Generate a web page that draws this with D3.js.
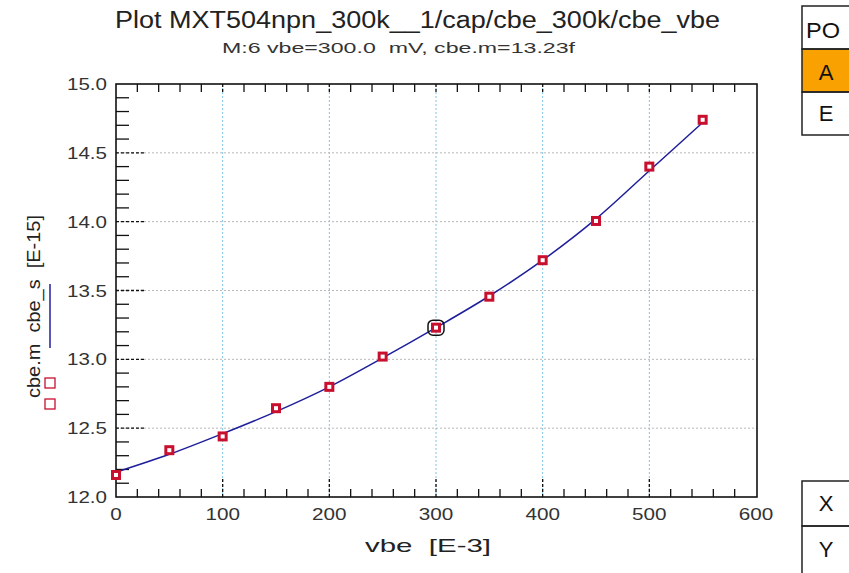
<!DOCTYPE html>
<html>
<head>
<meta charset="utf-8">
<script src="https://cdn.jsdelivr.net/npm/d3@7"></script>
<style>
  html, body { margin: 0; padding: 0; background: #fff; }
  svg { display: block; font-family: "Liberation Sans", Arial, sans-serif; }
</style>
</head>
<body>
<svg id="chart" width="849" height="573"></svg>
<script>
// Measured capacitance (cbe.m) and simulated curve (cbe_s) vs. base-emitter voltage
const vbe = [0, 50, 100, 150, 200, 250, 300, 350, 400, 450, 500, 550];        // [E-3] V
const cbeM = [12.16, 12.34, 12.44, 12.645, 12.80, 13.02, 13.23, 13.455, 13.72, 14.005, 14.40, 14.74]; // [E-15] F
const cbeS = [12.18, 12.31, 12.46, 12.62, 12.80, 13.01, 13.23, 13.46, 13.72, 14.02, 14.37, 14.72];   // [E-15] F
const xTicks = [0, 100, 200, 300, 400, 500, 600];
const yTicks = [12.0, 12.5, 13.0, 13.5, 14.0, 14.5, 15.0];
const markerVbe = 300, markerCbe = 13.23;

const svg = d3.select("#chart");
const L = 116, R = 757, T = 84, B = 497;

const x = d3.scaleLinear().domain([0, 600]).range([L, L + 640]);
const y = d3.scaleLinear().domain([12, 15]).range([B, T]);

const ink = "#222";

// helper: text fitted to a given width (the plotter uses a wide sans face)
function fitText(sel, width) {
  return sel.attr("textLength", width).attr("lengthAdjust", "spacingAndGlyphs");
}

// Titles
fitText(svg.append("text").attr("x", 115).attr("y", 28)
  .attr("font-size", 23).attr("fill", ink).text("Plot MXT504npn_300k__1/cap/cbe_300k/cbe_vbe"), 605);
fitText(svg.append("text").attr("x", 222).attr("y", 53)
  .attr("font-size", 15).attr("fill", "#333").attr("xml:space", "preserve")
  .text("M:6 vbe=300.0  mV, cbe.m=13.23f"), 353);

// Grid
const grid = svg.append("g");
xTicks.filter(d => d > 0 && d < 600).forEach(d => {
  grid.append("line").attr("x1", x(d)).attr("x2", x(d)).attr("y1", T).attr("y2", B)
    .attr("stroke", "#7fc4e6").attr("stroke-width", 1).attr("stroke-dasharray", "2,2");
});
yTicks.filter(d => d > 12 && d < 15).forEach(d => {
  grid.append("line").attr("x1", L).attr("x2", R).attr("y1", y(d)).attr("y2", y(d))
    .attr("stroke", "#b8b8b8").attr("stroke-width", 1).attr("stroke-dasharray", "2,2");
});

// Minor ticks
const ax = svg.append("g").attr("stroke", "#111").attr("stroke-width", 1.3);
d3.range(0, 601, 20).forEach(d => {
  if (d % 100 === 0) return;
  ax.append("line").attr("x1", x(d)).attr("x2", x(d)).attr("y1", B).attr("y2", B - 8);
  ax.append("line").attr("x1", x(d)).attr("x2", x(d)).attr("y1", T).attr("y2", T + 8);
});
d3.range(0, 31).map(i => 12 + i * 0.1).forEach(d => {
  if (Math.abs(d * 2 - Math.round(d * 2)) < 1e-6) return;
  ax.append("line").attr("x1", L).attr("x2", L + 13).attr("y1", y(d)).attr("y2", y(d));
});
// Major ticks (dashed)
xTicks.filter(d => d > 0 && d < 600).forEach(d => {
  ax.append("line").attr("x1", x(d)).attr("x2", x(d)).attr("y1", B).attr("y2", B - 20).attr("stroke-dasharray", "3,2");
  ax.append("line").attr("x1", x(d)).attr("x2", x(d)).attr("y1", T).attr("y2", T + 10).attr("stroke-dasharray", "3,2");
});
yTicks.filter(d => d > 12 && d < 15).forEach(d => {
  ax.append("line").attr("x1", L).attr("x2", L + 28).attr("y1", y(d)).attr("y2", y(d)).attr("stroke-dasharray", "3,2");
});

// Frame
svg.append("rect").attr("x", L).attr("y", T).attr("width", R - L).attr("height", B - T)
  .attr("fill", "none").attr("stroke", "#111").attr("stroke-width", 1.6);

// Tick labels
svg.append("g").selectAll("text").data(xTicks).join("text")
  .attr("x", d => x(d)).attr("y", 520).attr("text-anchor", "middle")
  .attr("font-size", 17).attr("fill", "#333").text(d => d)
  .attr("textLength", d => String(d).length * 11.5).attr("lengthAdjust", "spacingAndGlyphs");
svg.append("g").selectAll("text").data(yTicks).join("text")
  .attr("x", 107).attr("y", d => y(d) + 6).attr("text-anchor", "end")
  .attr("font-size", 17).attr("fill", "#333").text(d => d.toFixed(1))
  .attr("textLength", 40).attr("lengthAdjust", "spacingAndGlyphs");

// Axis titles
fitText(svg.append("text").attr("x", 365).attr("y", 552)
  .attr("font-size", 19).attr("fill", ink).attr("xml:space", "preserve").text("vbe  [E-3]"), 126);
fitText(svg.append("text").attr("transform", "translate(40,398) rotate(-90)")
  .attr("font-size", 19).attr("fill", ink).attr("xml:space", "preserve").text("cbe.m  cbe_s  [E-15]"), 183);

// Legend symbols beside the axis title
const blue = "#1f1f9c", red = "#c8102e";
svg.append("line").attr("x1", 50).attr("x2", 50).attr("y1", 284).attr("y2", 348)
  .attr("stroke", blue).attr("stroke-width", 1.5);
[383, 404].forEach(cy => {
  svg.append("rect").attr("x", 45).attr("y", cy - 5).attr("width", 10).attr("height", 10)
    .attr("fill", "none").attr("stroke", red).attr("stroke-width", 1.3);
});

// Simulated curve
const line = d3.line().x((d, i) => x(vbe[i])).y(d => y(d)).curve(d3.curveMonotoneX);
svg.append("path").datum(cbeS).attr("d", line)
  .attr("fill", "none").attr("stroke", blue).attr("stroke-width", 1.5);

// Measured points
svg.append("g").selectAll("rect").data(cbeM).join("rect")
  .attr("x", (d, i) => x(vbe[i]) - 3.5).attr("y", d => y(d) - 3.5)
  .attr("width", 7).attr("height", 7)
  .attr("fill", "#fff").attr("stroke", red).attr("stroke-width", 3);

// Marker M:6
svg.append("rect").attr("x", x(markerVbe) - 8).attr("y", y(markerCbe) - 7.5)
  .attr("width", 16).attr("height", 15).attr("rx", 5)
  .attr("fill", "none").attr("stroke", "#111").attr("stroke-width", 1.5);

// Side panels
const panel = svg.append("g").attr("font-size", 22).attr("fill", "#111");
panel.append("rect").attr("x", 802).attr("y", 49).attr("width", 60).attr("height", 43).attr("fill", "#f9a100");
[[6, 49], [49, 92], [92, 135], [481, 526], [526, 580]].forEach(([a, b]) => {
  panel.append("rect").attr("x", 802).attr("y", a).attr("width", 60).attr("height", b - a)
    .attr("fill", "none").attr("stroke", "#222").attr("stroke-width", 1.5);
});
fitText(panel.append("text").attr("x", 806).attr("y", 38).text("PO"), 34);
panel.append("text").attr("x", 826).attr("y", 80).attr("text-anchor", "middle").text("A");
panel.append("text").attr("x", 826).attr("y", 121).attr("text-anchor", "middle").text("E");
panel.append("text").attr("x", 826).attr("y", 511).attr("text-anchor", "middle").text("X");
panel.append("text").attr("x", 826).attr("y", 557).attr("text-anchor", "middle").text("Y");
</script>
</body>
</html>
